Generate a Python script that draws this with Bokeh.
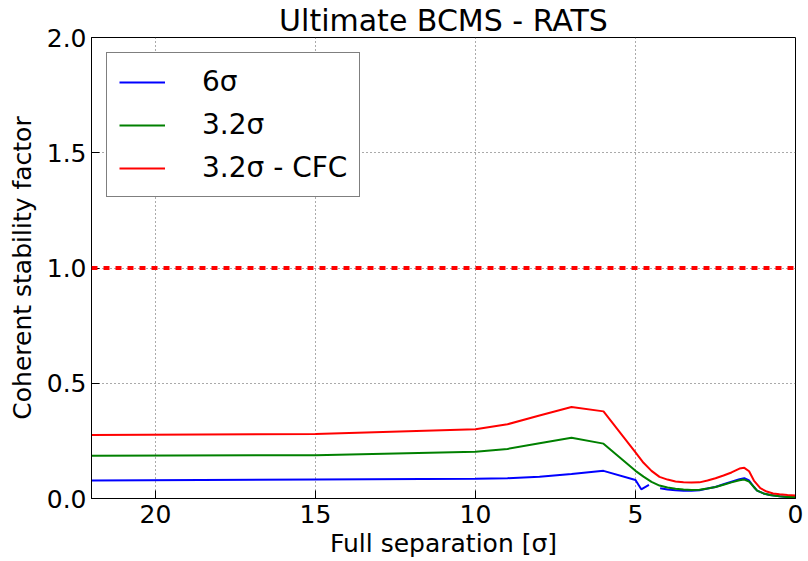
from bokeh.plotting import figure
from bokeh.models import Range1d, Span, FixedTicker, Legend, LegendItem, PrintfTickFormatter, Title
from bokeh.embed import file_html
from bokeh.resources import INLINE

nan = float("nan")

# 6 sigma
x_6s = [22, 15, 10, 9, 8, 7, 6, 5.0, 4.82, 4.58, 4.4, 4.23, 4.0, 3.75, 3.5, 3.25, 3.0, 2.75, 2.5, 2.25,
        2.0, 1.75, 1.6, 1.45, 1.3, 1.2, 1.0, 0.8, 0.5, 0.25, 0.0]
y_6s = [0.078, 0.082, 0.086, 0.088, 0.094, 0.106, 0.120, 0.080, 0.040, 0.059, nan, 0.044, 0.039, 0.036,
        0.034, 0.034, 0.036, 0.043, 0.050, 0.062, 0.073, 0.084, 0.088, 0.078, 0.050, 0.034, 0.022,
        0.015, 0.010, 0.007, 0.006]

# 3.2 sigma
x_32s = [22, 15, 10, 9, 8, 7, 6, 5.0, 4.75, 4.5, 4.25, 4.0, 3.75, 3.5, 3.25, 3.0, 2.75, 2.5, 2.25,
         2.0, 1.75, 1.6, 1.45, 1.3, 1.2, 1.0, 0.8, 0.5, 0.25, 0.0]
y_32s = [0.185, 0.188, 0.203, 0.215, 0.240, 0.264, 0.238, 0.120, 0.095, 0.072, 0.056, 0.048, 0.042,
         0.039, 0.037, 0.038, 0.043, 0.050, 0.060, 0.070, 0.079, 0.082, 0.073, 0.050, 0.034, 0.022,
         0.015, 0.010, 0.007, 0.006]

# 3.2 sigma - CFC
x_cfc = [22, 15, 10, 9, 8, 7, 6, 5.0, 4.75, 4.5, 4.25, 4.0, 3.75, 3.5, 3.25, 3.0, 2.75, 2.5, 2.25,
         2.0, 1.75, 1.6, 1.45, 1.3, 1.1, 0.9, 0.7, 0.5, 0.25, 0.0]
y_cfc = [0.275, 0.280, 0.300, 0.322, 0.360, 0.397, 0.378, 0.200, 0.155, 0.120, 0.094, 0.082, 0.074,
         0.071, 0.069, 0.070, 0.078, 0.088, 0.100, 0.113, 0.130, 0.133, 0.118, 0.078, 0.045, 0.030,
         0.022, 0.018, 0.015, 0.013]

threshold = 1.0
x_ticks = [20, 15, 10, 5, 0]
y_ticks = [0.0, 0.5, 1.0, 1.5, 2.0]
title_text = "Ultimate BCMS - RATS"

FONT = "DejaVu Sans"

p = figure(width=808, height=561, output_backend="svg", toolbar_location=None,
           x_range=Range1d(22, 0), y_range=Range1d(0, 2.0),
           min_border_left=91, min_border_right=13, min_border_top=34, min_border_bottom=63)
p.title = Title(text=title_text, text_font=FONT, text_font_size="30px",
                text_font_style="normal", text_color="black", align="center",
                standoff=0, offset=0, text_line_height=0.9)
p.background_fill_color = "white"
p.border_fill_color = "white"
p.outline_line_color = "black"
p.outline_line_width = 1

r1 = p.line(x_6s, y_6s, line_color="#0000ff", line_width=2)
r2 = p.line(x_32s, y_32s, line_color="#008000", line_width=2)
r3 = p.line(x_cfc, y_cfc, line_color="#ff0000", line_width=2)

p.add_layout(Span(location=threshold, dimension="width", line_color="#ff0000",
                  line_width=4, line_dash="6 6"))

for ax in (p.xaxis[0], p.yaxis[0]):
    ax.major_label_text_font = FONT
    ax.major_label_text_font_size = "25px"
    ax.major_label_text_color = "black"
    ax.axis_label_text_font = FONT
    ax.axis_label_text_font_size = "25px"
    ax.axis_label_text_font_style = "normal"
    ax.axis_label_text_color = "black"
    ax.major_tick_in = 8
    ax.major_tick_out = 0
    ax.minor_tick_in = 0
    ax.minor_tick_out = 0
    ax.axis_line_color = "black"

p.xaxis.ticker = FixedTicker(ticks=x_ticks)
p.yaxis.ticker = FixedTicker(ticks=y_ticks)
p.yaxis.formatter = PrintfTickFormatter(format="%.1f")
p.xaxis.axis_label = "Full separation [σ]"
p.yaxis.axis_label = "Coherent stability factor"
p.xaxis.major_label_standoff = 6
p.yaxis.major_label_standoff = 5
p.xaxis.axis_label_standoff = 3
p.yaxis.axis_label_standoff = 7

p.grid.grid_line_color = "#555555"
p.grid.grid_line_dash = "1 3"
p.grid.grid_line_width = 1
p.xgrid.ticker = FixedTicker(ticks=x_ticks)
p.ygrid.ticker = FixedTicker(ticks=y_ticks)

legend = Legend(items=[LegendItem(label="6σ", renderers=[r1]),
                       LegendItem(label="3.2σ", renderers=[r2]),
                       LegendItem(label="3.2σ - CFC", renderers=[r3])],
                location="top_left", margin=15, padding=12, spacing=10,
                glyph_width=46, glyph_height=30, label_height=30, label_standoff=37,
                label_text_font=FONT, label_text_font_size="28px", label_text_color="black",
                border_line_color="black", border_line_width=1,
                background_fill_color="white", background_fill_alpha=1.0)
p.add_layout(legend)

open("out.html", "w").write(file_html(p, INLINE))
